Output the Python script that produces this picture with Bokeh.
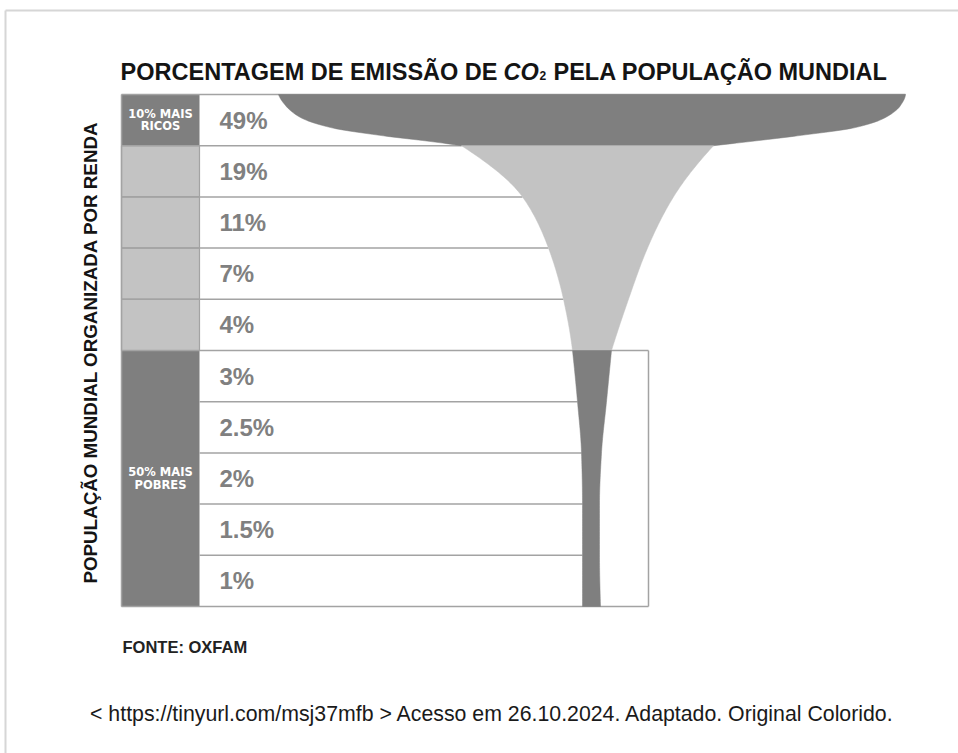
import numpy as np
from bokeh.plotting import figure
from bokeh.models import Range1d, Label, ColumnDataSource
from bokeh.embed import file_html
from bokeh.resources import INLINE
from bokeh.core.properties import value

# ---------------- data ----------------
ROW_VALUES = [49, 19, 11, 7, 4, 3, 2.5, 2, 1.5, 1]          # % of CO2 emissions per income decile
ROW_TIERS = ["ricos", "meio", "meio", "meio", "meio",
             "pobres", "pobres", "pobres", "pobres", "pobres"]
GROUP_LINES = [["10% MAIS", "RICOS"], ["50% MAIS", "POBRES"]]
GROUP_ROWS = [[0, 1], [5, 10]]                                # row span of each group

# funnel outline (row position -> left / right edge), per colour band
TOP_Y = [0, 0.215, 0.449, 0.645, 0.80, 0.918, 1]
TOP_LEFT = [278, 285, 300, 330, 380, 430, 461]
TOP_RIGHT = [905, 900, 885, 855, 800, 750, 713]
MID_Y = [1, 2, 3, 4, 5]
MID_LEFT = [461, 522, 548, 563, 572]
MID_RIGHT = [713, 673, 647, 628, 611]
LOW_Y = [5, 6, 7, 8, 9, 10]
LOW_LEFT = [572, 577, 581, 582, 582, 582]
LOW_RIGHT = [611, 606, 601, 599, 599, 600]

TITLE_LEFT = "PORCENTAGEM DE EMISSÃO DE"
TITLE_CO = "CO"
TITLE_SUB = "2"
TITLE_RIGHT = "PELA POPULAÇÃO MUNDIAL"
SIDE_LABEL = "POPULAÇÃO MUNDIAL ORGANIZADA POR RENDA"
SOURCE = "FONTE: OXFAM"
CITATION = "< https://tinyurl.com/msj37mfb > Acesso em 26.10.2024. Adaptado. Original Colorido."

# ---------------- style / layout ----------------
DARK = "#7f7f7f"
LIGHT = "#c3c3c3"
LINE = "#a3a3a3"
TEXT = "#141414"
PCT = "#808080"
W, H = 958, 753
ROW0_PX, ROW_PX = 94.0, 51.2
COL_L, COL_R, BOX_R = 121, 199, 648


def py2row(py):
    return (py - ROW0_PX) / ROW_PX


def pchip(xk, yk, xq):
    xk = np.asarray(xk, float); yk = np.asarray(yk, float); xq = np.asarray(xq, float)
    h = np.diff(xk); d = np.diff(yk) / h
    n = len(xk); m = np.zeros(n)
    for k in range(1, n - 1):
        if d[k - 1] * d[k] > 0:
            w1 = 2 * h[k] + h[k - 1]; w2 = h[k] + 2 * h[k - 1]
            m[k] = (w1 + w2) / (w1 / d[k - 1] + w2 / d[k])

    def end(h0, h1, d0, d1):
        if n < 3:
            return d0
        mm = ((2 * h0 + h1) * d0 - h0 * d1) / (h0 + h1)
        if np.sign(mm) != np.sign(d0):
            mm = 0.0
        elif np.sign(d0) != np.sign(d1) and abs(mm) > abs(3 * d0):
            mm = 3 * d0
        return mm
    m[0] = end(h[0], h[1] if n > 2 else h[0], d[0], d[1] if n > 2 else d[0])
    m[-1] = end(h[-1], h[-2] if n > 2 else h[-1], d[-1], d[-2] if n > 2 else d[-1])
    idx = np.clip(np.searchsorted(xk, xq) - 1, 0, n - 2)
    t = (xq - xk[idx]) / h[idx]
    h00 = 2 * t**3 - 3 * t**2 + 1; h10 = t**3 - 2 * t**2 + t
    h01 = -2 * t**3 + 3 * t**2; h11 = t**3 - t**2
    return h00 * yk[idx] + h10 * h[idx] * m[idx] + h01 * yk[idx + 1] + h11 * h[idx] * m[idx + 1]


p = figure(width=W, height=H, output_backend="svg", toolbar_location=None,
           x_range=Range1d(0, W), y_range=Range1d(py2row(H), py2row(0)),
           min_border=0)
p.axis.visible = False
p.grid.visible = False
p.outline_line_color = None
p.background_fill_color = "white"
p.border_fill_color = "white"

# outer frame (top & left)
p.segment(x0=[5, 5], y0=[py2row(10), py2row(10)], x1=[W, 5], y1=[py2row(10), py2row(H)],
          line_color="#d6d6d6", line_width=2)

# left column cells
nrows = len(ROW_VALUES)
for r in range(nrows):
    if ROW_TIERS[r] == "meio":
        p.quad(left=COL_L, right=COL_R, top=r, bottom=r + 1, fill_color=LIGHT, line_color=LINE, line_width=1.2)
for (a, b) in GROUP_ROWS:
    p.quad(left=COL_L, right=COL_R, top=a, bottom=b, fill_color=DARK, line_color=None)

# row lines end where the funnel begins
def left_edge(y):
    if y <= 1:
        return float(pchip(TOP_Y, TOP_LEFT, [y])[0])
    if y <= 5:
        return float(pchip(MID_Y, MID_LEFT, [y])[0])
    return float(pchip(LOW_Y, LOW_LEFT, [y])[0])

x0s, y0s, x1s, y1s = [], [], [], []
for k in range(nrows + 1):
    if k == 0:
        x0, x1 = COL_L, TOP_RIGHT[0]
    elif k in (GROUP_ROWS[1][0], GROUP_ROWS[1][1]):
        x0, x1 = COL_L, BOX_R
    elif k > GROUP_ROWS[1][0]:
        x0, x1 = COL_R, left_edge(k)
    else:
        x0, x1 = COL_L, left_edge(k)
    x0s.append(x0); x1s.append(x1); y0s.append(k); y1s.append(k)
x0s += [COL_L, BOX_R]; x1s += [COL_L, BOX_R]
y0s += [0, GROUP_ROWS[1][0]]; y1s += [nrows, GROUP_ROWS[1][1]]
p.segment(x0=x0s, y0=y0s, x1=x1s, y1=y1s, line_color=LINE, line_width=1.5)

# funnel
bands = [(TOP_Y, TOP_LEFT, TOP_RIGHT, DARK), (MID_Y, MID_LEFT, MID_RIGHT, LIGHT),
         (LOW_Y, LOW_LEFT, LOW_RIGHT, DARK)]
for ys_k, lk, rk, c in bands:
    ys = np.linspace(ys_k[0], ys_k[-1], 100)
    L = pchip(ys_k, lk, ys)
    R = pchip(ys_k, rk, ys)
    p.patch(x=np.concatenate([L, R[::-1]]), y=np.concatenate([ys, ys[::-1]]),
            fill_color=c, line_color=c, line_width=0.5)

# percentage labels
src = ColumnDataSource(dict(
    x=[219] * nrows,
    y=[r + 0.5 for r in range(nrows)],
    t=[(f"{v:g}%") for v in ROW_VALUES],
))
p.text(x="x", y="y", text="t", source=src, text_font=value("Liberation Sans"),
       text_font_style="bold", text_font_size="24px", text_color=PCT,
       text_align="left", text_baseline="middle")

# group labels
for lines, (a, b) in zip(GROUP_LINES, GROUP_ROWS):
    mid = (a + b) / 2
    for i, line in enumerate(lines):
        off = (i - (len(lines) - 1) / 2) * (12.5 / ROW_PX)
        p.add_layout(Label(x=(COL_L + COL_R) / 2, y=mid + off, text=line,
                           text_font="DejaVu Sans", text_font_style="bold",
                           text_font_size="11.5px", text_color="white",
                           text_align="center", text_baseline="middle"))

# title
base = py2row(71)
p.add_layout(Label(x=497, y=base, text=TITLE_LEFT, text_font="Liberation Sans", text_font_style="bold",
                   text_font_size="23.5px", text_color=TEXT, text_align="right", text_baseline="alphabetic"))
p.add_layout(Label(x=503, y=base, text=TITLE_CO, text_font="Liberation Sans", text_font_style="bold italic",
                   text_font_size="23.5px", text_color=TEXT, text_align="left", text_baseline="alphabetic"))
p.add_layout(Label(x=539, y=py2row(75), text=TITLE_SUB, text_font="Liberation Sans", text_font_style="bold",
                   text_font_size="12px", text_color=TEXT, text_align="left", text_baseline="alphabetic"))
p.add_layout(Label(x=553, y=base, text=TITLE_RIGHT, text_font="Liberation Sans", text_font_style="bold",
                   text_font_size="23.5px", text_color=TEXT, text_align="left", text_baseline="alphabetic"))

# side label
p.add_layout(Label(x=90, y=py2row(352), text=SIDE_LABEL, angle=90, angle_units="deg",
                   text_font="Liberation Sans", text_font_style="bold", text_font_size="18.8px",
                   text_color=TEXT, text_align="center", text_baseline="middle"))

# footer
p.add_layout(Label(x=122, y=py2row(646), text=SOURCE, text_font="Liberation Sans", text_font_style="bold",
                   text_font_size="16.5px", text_color="#222222", text_align="left", text_baseline="alphabetic"))
p.add_layout(Label(x=492, y=py2row(713), text=CITATION, text_font="Liberation Sans",
                   text_font_size="21.3px", text_color="#1a1a1a", text_align="center", text_baseline="alphabetic"))

open("out.html", "w").write(file_html(p, INLINE))
